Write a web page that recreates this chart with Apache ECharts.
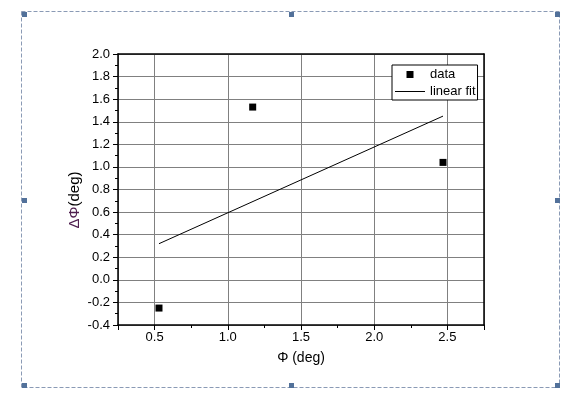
<!DOCTYPE html>
<html>
<head>
<meta charset="utf-8">
<script src="https://cdn.jsdelivr.net/npm/echarts@6/dist/echarts.min.js"></script>
<style>
html,body{margin:0;padding:0;background:#fff;}
#chart{width:563px;height:395px;}
</style>
</head>
<body>
<div id="chart"></div>
<script>
// ---- data ----
const dataX = [0.53, 1.17, 2.47];
const dataY = [-0.25, 1.53, 1.04];
const fitX = [0.53, 2.47];
const fitY = [0.32, 1.45];
const xRange = [0.25, 2.75];
const yRange = [-0.4, 2.0];
const seriesNames = ['data', 'linear fit'];
const xTitle = 'Φ (deg)';
const yTitleA = 'ΔΦ';
const yTitleB = '(deg)';

const FONT = '"Liberation Sans", Arial, sans-serif';
const chart = echarts.init(document.getElementById('chart'), null, {renderer: 'canvas'});

const handles = [];
[22, 289, 555].forEach(function (hx) {
  [12, 198, 383].forEach(function (hy) {
    if (hx === 289 && hy === 198) return;
    handles.push({type: 'rect', silent: true, shape: {x: hx, y: hy, width: 5, height: 5},
      style: {fill: '#52719a'}, z: 100});
  });
});

function halfLabel(v) {
  return Math.abs(v * 2 - Math.round(v * 2)) < 1e-6 ? v.toFixed(1) : '';
}

const grid = {left: 118, right: 79, top: 54, bottom: 70, show: false, outerBoundsMode: 'none', containLabel: false};

chart.setOption({
  animation: false,
  backgroundColor: '#fff',
  textStyle: {fontFamily: FONT},
  grid: grid,
  legend: {
    orient: 'vertical', left: 392, top: 65,
    padding: [2, 2, 1, 3], itemGap: 2, itemWidth: 30, itemHeight: 7,
    borderColor: '#000', borderWidth: 1, borderRadius: 0, backgroundColor: '#fff',
    textStyle: {fontFamily: FONT, fontSize: 13, color: '#000', lineHeight: 15},
    data: [
      {name: seriesNames[0], icon: 'path://M0,0h10v10h-10z', itemStyle: {color: '#000', opacity: 1}},
      {name: seriesNames[1], icon: 'path://M0,0h30v1h-30z', itemStyle: {color: '#000', opacity: 1}}
    ],
    selectedMode: false,
    z: 50
  },
  xAxis: [
    {
      type: 'value', min: xRange[0], max: xRange[1], splitNumber: 5, position: 'bottom',
      axisLine: {show: true, onZero: false, lineStyle: {color: '#000', width: 1.5}},
      axisTick: {show: true, length: 5, lineStyle: {color: '#000', width: 1}},
      axisLabel: {show: true, margin: 6, color: '#000', fontFamily: FONT, fontSize: 13, formatter: halfLabel},
      splitLine: {show: true, lineStyle: {color: '#808080', width: 1}},
      name: xTitle, nameLocation: 'middle', nameGap: 26,
      nameTextStyle: {color: '#000', fontFamily: FONT, fontSize: 14}
    },
    {
      type: 'value', min: xRange[0], max: xRange[1], interval: 0.25, position: 'bottom',
      axisLine: {show: false, onZero: false},
      axisTick: {show: true, length: 3, lineStyle: {color: '#000', width: 1}},
      axisLabel: {show: false},
      splitLine: {show: false}
    },
    {
      type: 'value', min: xRange[0], max: xRange[1], position: 'top',
      axisLine: {show: true, onZero: false, lineStyle: {color: '#000', width: 1.5}},
      axisTick: {show: false}, axisLabel: {show: false}, splitLine: {show: false}
    }
  ],
  yAxis: [
    {
      type: 'value', min: yRange[0], max: yRange[1], interval: 0.2, position: 'left',
      axisLine: {show: true, onZero: false, lineStyle: {color: '#000', width: 1.5}},
      axisTick: {show: true, length: 5, lineStyle: {color: '#000', width: 1}},
      minorTick: {show: true, splitNumber: 2, length: 3, lineStyle: {color: '#000', width: 1}},
      axisLabel: {show: true, margin: 8, color: '#000', fontFamily: FONT, fontSize: 13,
        formatter: function (v) { return v.toFixed(1); }},
      splitLine: {show: true, lineStyle: {color: '#808080', width: 1}},
      minorSplitLine: {show: false}
    },
    {
      type: 'value', min: yRange[0], max: yRange[1], interval: 0.2, position: 'right',
      axisLine: {show: true, onZero: false, lineStyle: {color: '#000', width: 1.5}},
      axisTick: {show: false}, axisLabel: {show: false}, splitLine: {show: false}
    }
  ],
  series: [
    {
      name: seriesNames[0], type: 'scatter', xAxisIndex: 0, yAxisIndex: 0,
      symbol: 'rect', symbolSize: 7,
      itemStyle: {color: '#000', opacity: 1},
      data: dataX.map(function (x, i) { return [x, dataY[i]]; }),
      z: 10
    },
    {
      name: seriesNames[1], type: 'line', xAxisIndex: 0, yAxisIndex: 0,
      symbol: 'none', showSymbol: false,
      lineStyle: {color: '#000', width: 1},
      itemStyle: {color: '#000'},
      data: fitX.map(function (x, i) { return [x, fitY[i]]; }),
      z: 9
    }
  ],
  graphic: [
    {
      type: 'text', silent: true, x: 75, y: 200, rotation: Math.PI / 2,
      style: {
        text: '{a|' + yTitleA + '}{b|' + yTitleB + '}',
        align: 'center', verticalAlign: 'middle',
        rich: {
          a: {fontFamily: FONT, fontSize: 15, fill: '#502050', color: '#502050'},
          b: {fontFamily: FONT, fontSize: 15, fill: '#000', color: '#000'}
        }
      }
    },
    {
      type: 'rect', silent: true, shape: {x: 21.5, y: 11.5, width: 538, height: 376},
      style: {fill: null, stroke: '#8a9ab5', lineWidth: 1, lineDash: [4, 2]}, z: 99
    }
  ].concat(handles)
});
</script>
</body>
</html>
